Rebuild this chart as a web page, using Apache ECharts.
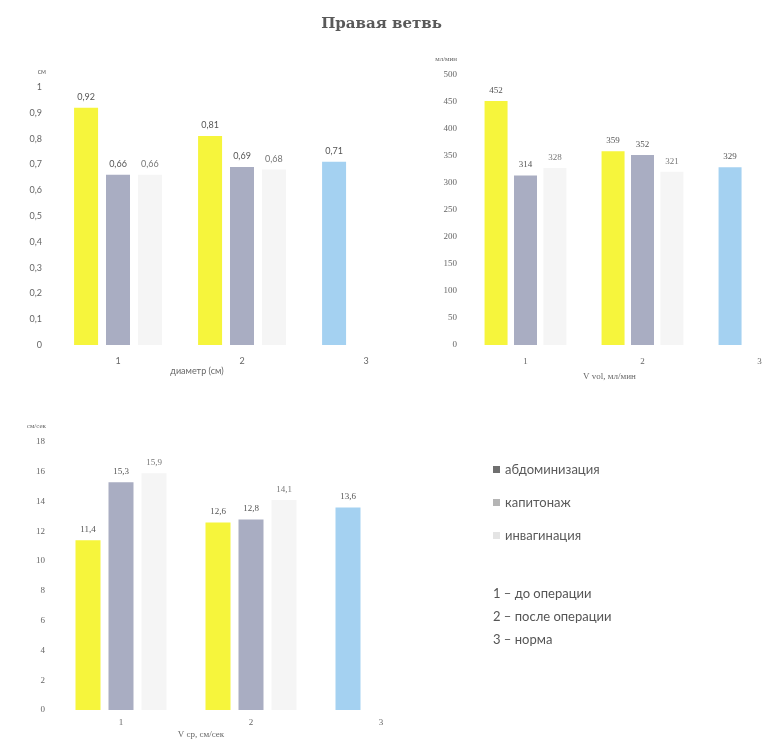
<!DOCTYPE html>
<html>
<head>
<meta charset="utf-8">
<title>Правая ветвь</title>
<script src="https://cdn.jsdelivr.net/npm/echarts@6/dist/echarts.min.js"></script>
<style>
  html, body { margin: 0; padding: 0; background: #fff; }
  #main { width: 763px; height: 747px; }
</style>
</head>
<body>
<div id="main"></div>
<script>
// категории: 1 - до операции, 2 - после операции, 3 - норма
const categories = ['1', '2', '3'];
const seriesNames = ['абдоминизация', 'капитонаж', 'инвагинация'];

// диаметр (см)
const diamAbd = [0.92, 0.81, 0.71];
const diamKap = [0.66, 0.69, null];
const diamInv = [0.66, 0.68, null];

// V vol, мл/мин
const volAbd = [452, 359, 329];
const volKap = [314, 352, null];
const volInv = [328, 321, null];

// V ср, см/сек
const velAbd = [11.4, 12.6, 13.6];
const velKap = [15.3, 12.8, null];
const velInv = [15.9, 14.1, null];

const notes = ['1 – до операции', '2 – после операции', '3 – норма'];
const normIndex = 2; // столбец нормы окрашен голубым

const YELLOW = '#f6f53c';
const GREY = '#a9adc2';
const FAINT = '#f5f5f5';
const BLUE = '#a4d1f1';

const comma = v => String(v).replace('.', ',');

// строим три серии для одного графика
function makeSeries(idx, abd, kap, inv, barWidth, barGap, font) {
    const lbl = (color) => ({
        show: true, position: 'top', distance: 6,
        color: color, fontSize: 9, fontFamily: font,
        formatter: p => comma(p.value)
    });
    const abdData = abd.map((v, i) => i === normIndex
        ? { value: v, itemStyle: { color: BLUE } }
        : v);
    return [
        { name: seriesNames[0], type: 'bar', xAxisIndex: idx, yAxisIndex: idx,
          data: abdData, barWidth: barWidth, barGap: barGap,
          itemStyle: { color: YELLOW }, label: lbl('#555') },
        { name: seriesNames[1], type: 'bar', xAxisIndex: idx, yAxisIndex: idx,
          data: kap, barWidth: barWidth, barGap: barGap,
          itemStyle: { color: GREY }, label: lbl('#555') },
        { name: seriesNames[2], type: 'bar', xAxisIndex: idx, yAxisIndex: idx,
          data: inv, barWidth: barWidth, barGap: barGap,
          itemStyle: { color: FAINT }, label: lbl('#777') }
    ];
}

function xAx(idx, name, font, margin, nameGap, shift) {
    return {
        type: 'category', gridIndex: idx, data: categories,
        axisLine: { show: false }, axisTick: { show: false },
        axisLabel: { color: '#666', fontSize: 9, fontFamily: font, margin: margin },
        name: name, nameLocation: 'middle', nameGap: nameGap,
        nameTextStyle: { color: '#666', fontSize: 9, fontFamily: font, padding: [0, shift, 0, 0] }
    };
}

function yAx(idx, max, interval, unit, font, margin, fmt) {
    return {
        type: 'value', gridIndex: idx, min: 0, max: max, interval: interval,
        axisLine: { show: false }, axisTick: { show: false }, splitLine: { show: false },
        axisLabel: { color: '#666', fontSize: 9, fontFamily: font, margin: margin, formatter: fmt },
        name: unit, nameLocation: 'end', nameGap: 12,
        nameTextStyle: { color: '#666', fontSize: 7, fontFamily: font, align: 'right', padding: [0, 10, 0, 0] }
    };
}

let myChart = echarts.init(document.getElementById('main'));

myChart.setOption({
    animation: false,
    backgroundColor: '#fff',
    title: {
        text: 'Правая ветвь', left: 'center', top: 12,
        textStyle: { fontFamily: 'DejaVu Serif', fontSize: 15, fontWeight: 'bold', color: '#5a5a5a' }
    },
    legend: {
        orient: 'vertical', left: 488, top: 458, itemGap: 20,
        itemWidth: 7, itemHeight: 7, icon: 'rect',
        textStyle: { color: '#5a5a5a', fontSize: 13, fontFamily: 'Lato' },
        data: [
            { name: seriesNames[0], itemStyle: { color: '#6f6f6f' } },
            { name: seriesNames[1], itemStyle: { color: '#b5b5b5' } },
            { name: seriesNames[2], itemStyle: { color: '#e4e4e4' } }
        ]
    },
    // второй график выходит за правый край, как на оригинале
    grid: [
        { left: 56, width: 372, top: 87, height: 258, outerBoundsMode: 'none' },
        { left: 467, width: 351, top: 75, height: 270, outerBoundsMode: 'none' },
        { left: 56, width: 390, top: 442, height: 268, outerBoundsMode: 'none' }
    ],
    xAxis: [
        xAx(0, 'диаметр (см)', 'Lato', 12, 20, 90),
        xAx(1, 'V vol, мл/мин', 'Liberation Serif', 12, 27, 66),
        xAx(2, 'V ср, см/сек', 'Liberation Serif', 8, 20, 100)
    ],
    yAxis: [
        yAx(0, 1, 0.1, 'см', 'Lato', 14, v => comma(+v.toFixed(1))),
        yAx(1, 500, 50, 'мл/мин', 'Liberation Serif', 10, v => v),
        yAx(2, 18, 2, 'см/сек', 'Liberation Serif', 11, v => v)
    ],
    series: [].concat(
        makeSeries(0, diamAbd, diamKap, diamInv, 24, '33%', 'Lato'),
        makeSeries(1, volAbd, volKap, volInv, 23, '28%', 'Liberation Serif'),
        makeSeries(2, velAbd, velKap, velInv, 25, '32%', 'Liberation Serif')
    ),
    graphic: notes.map((t, i) => ({
        type: 'text', left: 493, top: 587 + i * 23,
        style: { text: t, fill: '#555', fontSize: 13, fontFamily: 'Lato' }
    }))
});
</script>
</body>
</html>
